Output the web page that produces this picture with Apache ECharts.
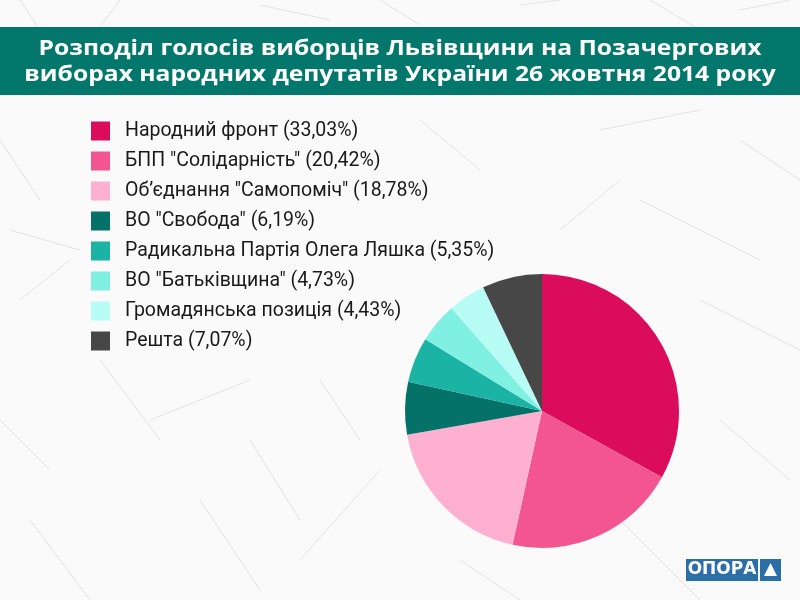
<!DOCTYPE html>
<html>
<head>
<meta charset="utf-8">
<script src="https://cdn.jsdelivr.net/npm/echarts@6/dist/echarts.min.js"></script>
<style>
  html, body { margin: 0; padding: 0; background: #fafafa; }
  #main { width: 800px; height: 600px; }
</style>
</head>
<body>
<div id="main"></div>
<script>
// назви партій і відсотки
var parties = ['Народний фронт', 'БПП "Солідарність"', 'Об\u2019єднання "Самопоміч"', 'ВО "Свобода"',
  'Радикальна Партія Олега Ляшка', 'ВО "Батьківщина"', 'Громадянська позиція', 'Решта'];
var shares = [33.03, 20.42, 18.78, 6.19, 5.35, 4.73, 4.43, 7.07];
var colors = ['#dc0c5c', '#f25590', '#fdb0cf', '#05726a', '#1bb3a4', '#7ff0e2', '#b8fcf6', '#474747'];

var titleLines = ['Розподіл голосів виборців Львівщини на Позачергових',
  'виборах народних депутатів України 26 жовтня 2014 року'];

var chart = echarts.init(document.getElementById('main'));

// фонові лінії (декор)
var bgLines = [
  [20, 0, 60, 60], [120, 0, 90, 40], [260, 5, 330, 20], [650, 0, 700, 30], [740, 10, 790, 0],
  [0, 140, 40, 200], [20, 300, 70, 260], [0, 420, 50, 470], [30, 520, 90, 600], [150, 420, 250, 380],
  [200, 500, 260, 590], [300, 560, 380, 470], [420, 120, 480, 170], [600, 130, 700, 110],
  [640, 200, 760, 260], [700, 300, 800, 350], [720, 420, 790, 480], [620, 520, 700, 600],
  [460, 560, 520, 600], [320, 380, 360, 440], [100, 360, 160, 440], [560, 230, 620, 180],
  [380, 0, 420, 25], [520, 5, 560, 0], [10, 230, 80, 250], [250, 440, 300, 520], [740, 140, 800, 180]
];
var graphics = bgLines.map(function (l) {
  return { type: 'line', shape: { x1: l[0], y1: l[1], x2: l[2], y2: l[3] },
    style: { stroke: '#e3e3e3', lineWidth: 1 }, silent: true, z: -10 };
});
graphics.push(
  { type: 'rect', shape: { x: 0, y: 27, width: 800, height: 68 }, style: { fill: '#03776b' }, z: 1 },
  // заголовок трохи розтягнутий по ширині
  { type: 'text', x: 400, y: 62, scaleX: 1.12, z: 2,
    style: { text: titleLines.join('\n'), fill: '#fff', font: 'bold 22px "Open Sans"', align: 'center',
      verticalAlign: 'middle', lineHeight: 26 } },
  // логотип
  { type: 'rect', shape: { x: 686, y: 559, width: 72, height: 22 }, style: { fill: '#2a6fa8' }, z: 2 },
  { type: 'text', x: 722, y: 570, z: 3,
    style: { text: 'ОПОРА', fill: '#fff', font: 'bold 17px "DejaVu Sans"', align: 'center', verticalAlign: 'middle' } },
  { type: 'rect', shape: { x: 760, y: 559, width: 21, height: 22 }, style: { fill: '#2a6fa8' }, z: 2 },
  { type: 'polygon', shape: { points: [[770.5, 563], [777, 576], [764, 576]] }, style: { fill: '#fff' }, z: 3 }
);

var option = {
  backgroundColor: '#fafafa',
  color: colors,
  legend: {
    orient: 'vertical',
    left: 86,
    top: 116,
    itemWidth: 19,
    itemHeight: 19,
    itemGap: 10,
    icon: 'rect',
    textStyle: { fontFamily: 'Roboto', fontSize: 19.5, color: '#1a1a1a', padding: [0, 0, 0, 10] },
    formatter: function (name) {
      var i = parties.indexOf(name);
      return name + ' (' + shares[i].toFixed(2).replace('.', ',') + '%)';
    },
    selectedMode: false
  },
  graphic: graphics,
  series: [{
    type: 'pie',
    center: [542, 411],
    radius: 137,
    startAngle: 90,
    label: { show: false },
    labelLine: { show: false },
    itemStyle: { borderWidth: 0 },
    emphasis: { disabled: true },
    data: parties.map(function (p, i) { return { name: p, value: shares[i] }; })
  }]
};
chart.setOption(option);
</script>
</body>
</html>
